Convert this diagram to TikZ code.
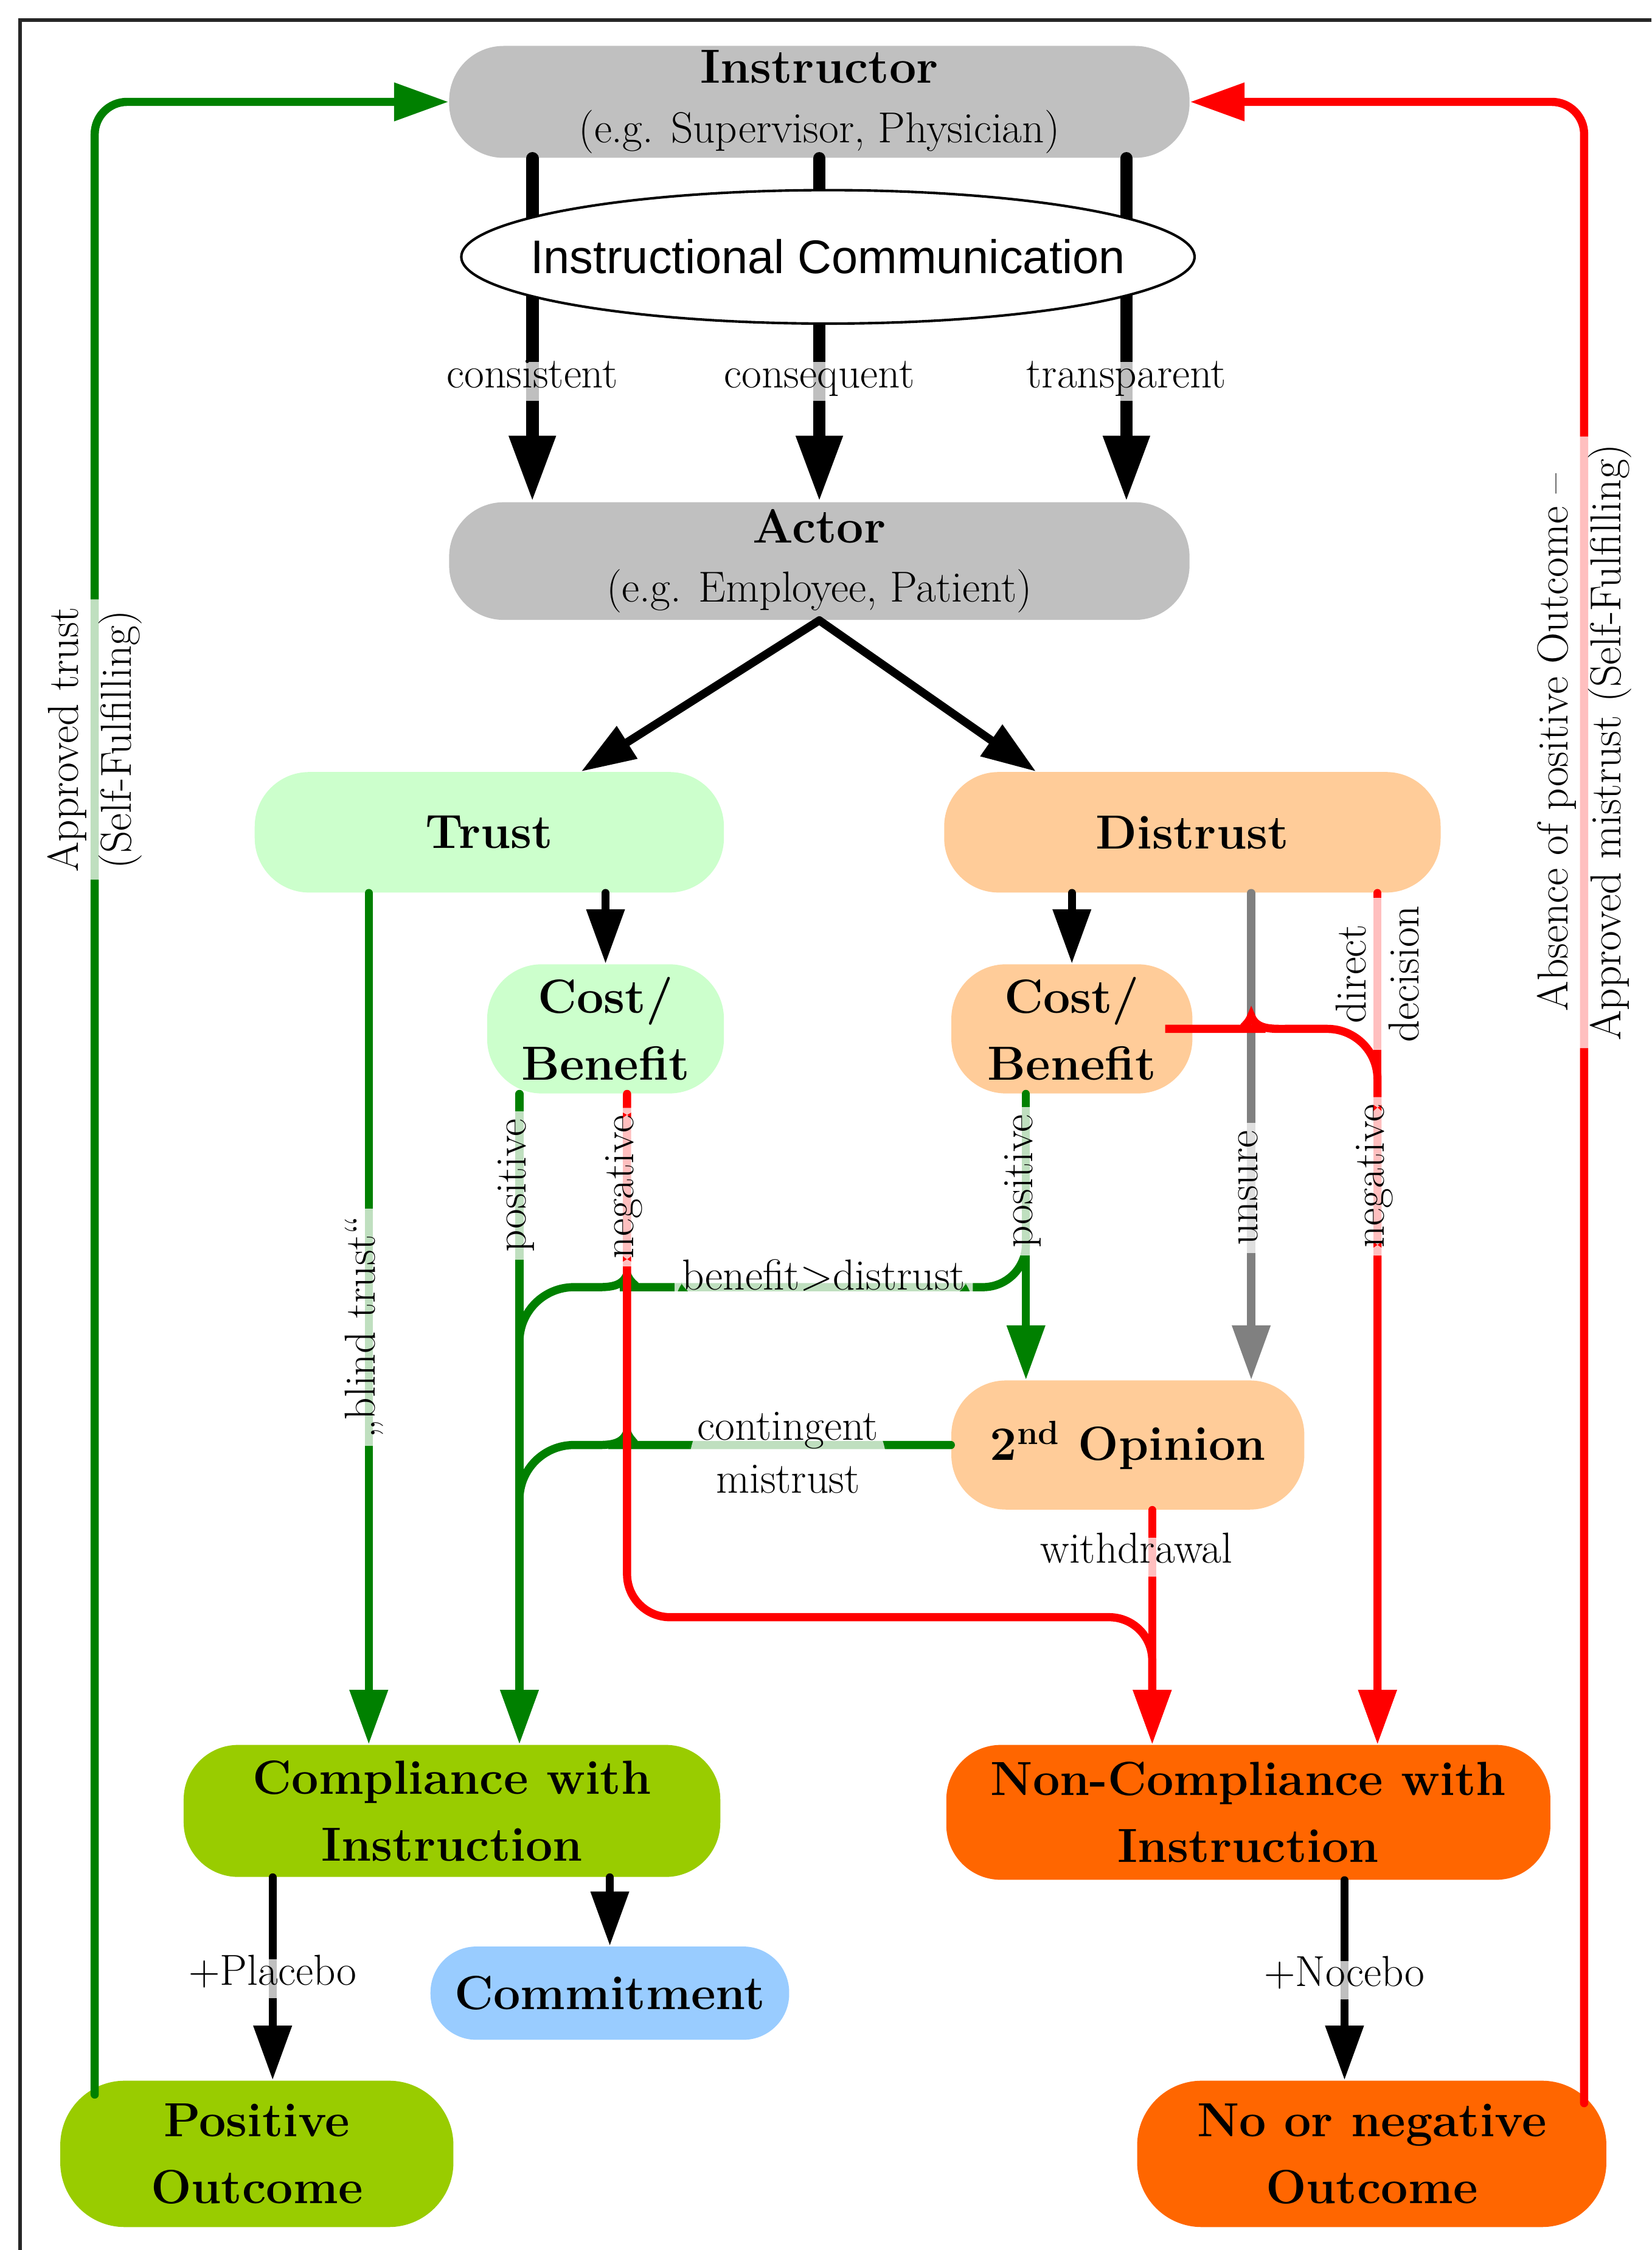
\documentclass[tikz,border=0pt]{standalone}
\usepackage{fontspec}
\newfontfamily\commfont{Liberation Sans}
\usepackage{tikz}
\usetikzlibrary{arrows.meta,shapes.geometric}

\definecolor{boxgray}{HTML}{C0C0C0}
\definecolor{trustfill}{HTML}{CCFFCC}
\definecolor{distrustfill}{HTML}{FFCC99}
\definecolor{compfill}{HTML}{99CC00}
\definecolor{noncompfill}{HTML}{FF6600}
\definecolor{commitfill}{HTML}{99CCFF}
\definecolor{edgegreen}{HTML}{008000}
\definecolor{edgered}{HTML}{FF0000}
\definecolor{edgegray}{HTML}{808080}

\newcommand\nodefont{\fontsize{19}{26.5}\selectfont\bfseries}
\newcommand\subfont{\fontsize{17.2}{21}\selectfont\mdseries}
\newcommand\lblfont{\fontsize{17.2}{21}\selectfont}

\begin{document}
\begin{tikzpicture}[x=0.2mm, y=-0.2mm,
  blob/.style={rectangle, rounded corners=7.6mm, inner sep=0pt, align=center, font=\nodefont},
  lbl/.style={fill=white, fill opacity=0.75, text opacity=1, text=black, inner sep=3pt, align=center, font=\lblfont},
  lblone/.style={fill=white, fill opacity=0.75, text opacity=1, text=black, inner sep=3pt, font=\lblfont, text height=0.72em, text depth=0.22em},
  vlbl/.style={lblone, rotate=90},
  big/.style={line width=1.75mm, line cap=round, -{Triangle[length=9.2mm, width=6.1mm]}},
  mid/.style={line width=1.14mm, line cap=round, -{Triangle[length=7.6mm, width=5.1mm]}},
  gline/.style={mid, color=edgegreen},
  rline/.style={mid, color=edgered}]

  \newcommand\XU{0.2mm}

  \useasboundingbox (0,0) rectangle (1151,1568);
  \draw[line width=0.5mm, black!85] (1151,14) -| (14,1568);

  \node[blob, fill=boxgray, minimum width=516*\XU, minimum height=78*\XU] (ins) at (571,71)
    {Instructor\\[-3pt]{\subfont (e.g. Supervisor, Physician)}};
  \node[blob, fill=boxgray, minimum width=516*\XU, minimum height=82*\XU] (act) at (571,391)
    {Actor\\[-3pt]{\subfont (e.g. Employee, Patient)}};

  \draw[big] ([xshift=-200*\XU]ins.south) -- node[lblone, pos=0.65]{consistent} ([xshift=-200*\XU]act.north);
  \draw[big] (ins.south) -- node[lblone, pos=0.65]{consequent} (act.north);
  \draw[big] ([xshift=214*\XU]ins.south) -- node[lblone, pos=0.65]{transparent} ([xshift=214*\XU]act.north);

  \node[ellipse, draw, line width=0.35mm, fill=white, minimum width=511*\XU, minimum height=93*\XU,
    inner sep=0pt, font=\commfont\fontsize{18.7}{22}\selectfont] (comm) at (577,179)
    {\makebox[0pt]{Instructional Communication}};

  \node[blob, fill=trustfill, minimum width=327*\XU, minimum height=84*\XU] (trust) at (341,580) {Trust};
  \node[blob, fill=distrustfill, minimum width=346*\XU, minimum height=84*\XU] (dis) at (831,580) {Distrust};
  \node[blob, fill=trustfill, minimum width=165*\XU, minimum height=90*\XU] (cbt) at (422,717) {Cost/\\Benefit};
  \node[blob, fill=distrustfill, minimum width=168*\XU, minimum height=90*\XU] (cbd) at (747,717) {Cost/\\Benefit};
  \node[blob, fill=distrustfill, minimum width=246*\XU, minimum height=90*\XU] (opin) at (786,1007) {2\textsuperscript{nd} Opinion};
  \node[blob, fill=compfill, minimum width=374*\XU, minimum height=92*\XU] (comp) at (315,1262) {Compliance with\\Instruction};
  \node[blob, fill=noncompfill, minimum width=421*\XU, minimum height=94*\XU] (ncomp) at (870,1263) {Non-Compliance with\\Instruction};
  \node[blob, fill=commitfill, rounded corners=6.4mm, minimum width=250*\XU, minimum height=65*\XU] (commit) at (425,1389) {Commitment};
  \node[blob, fill=compfill, rounded corners=9mm, minimum width=274*\XU, minimum height=102*\XU] (pos) at (179,1501) {Positive\\Outcome};
  \node[blob, fill=noncompfill, rounded corners=9mm, minimum width=327*\XU, minimum height=102*\XU] (neg) at (956,1501) {No or negative\\Outcome};

  % columns and rows of the connectors
  \coordinate (xl) at (66,0);
  \coordinate (xr) at (1104,0);
  \coordinate (xa) at (257,0);
  \coordinate (xb) at (362,0);
  \coordinate (xc) at (437,0);
  \coordinate (xd) at (715,0);
  \coordinate (xe) at (803,0);
  \coordinate (xf) at (872,0);
  \coordinate (xg) at (960,0);
  \coordinate (xp) at (190,0);
  \coordinate (xn) at (937,0);
  \coordinate (yb) at (0,897);
  \coordinate (yc) at (0,1127);
  \coordinate (bstart) at (715,862);

  \draw[mid] (act.south) -- ([xshift=64*\XU]trust.north);
  \draw[mid] (act.south) -- ([xshift=-109*\XU]dis.north);
  \draw[mid] (cbt.north |- trust.south) -- (cbt.north);
  \draw[mid] (cbd.north |- dis.south) -- (cbd.north);

  \draw[gline, -, rounded corners=6mm] (bstart) -- (xd |- yb)
    -- node[lblone, pos=0.557, anchor=base, yshift=-0.4mm]{benefit>distrust} ([xshift=25*\XU]xc |- yb)
    [sharp corners] to[out=180,in=-70] ++(-25,-9) to[out=-110,in=0] ++(-25,9)
    [rounded corners=7.6mm] -- (xb |- yb) -- ++(0,60);
  \draw[gline, -, rounded corners=7.6mm] (opin.west)
    -- node[lbl, pos=0.566, yshift=-1.1mm]{contingent\\mistrust} ([xshift=25*\XU]xc |- opin.west)
    [sharp corners] to[out=180,in=-70] ++(-25,-9) to[out=-110,in=0] ++(-25,9)
    [rounded corners=7.6mm] -- (xb |- opin.west) -- ++(0,60);
  \draw[gline] (cbt.south -| xb) -- node[vlbl, pos=0.141]{positive} (comp.north -| xb);
  \draw[gline] (cbd.south -| xd) -- node[vlbl, pos=0.305]{positive} (opin.north -| xd);
  \draw[gline] (trust.south -| xa) -- node[vlbl, pos=0.51]{„blind trust“} (comp.north -| xa);

  \draw[mid, edgegray] (dis.south -| xf) -- node[vlbl, pos=0.606]{unsure} (opin.north -| xf);

  \draw[rline, rounded corners=6mm] (cbt.south -| xc) -- node[vlbl, pos=0.178]{negative} (xc |- yc)
    -- (xe |- yc) -- (ncomp.north -| xe);
  \draw[rline] (opin.south -| xe) -- node[lblone, pos=0.2, xshift=-2.2mm]{withdrawal} (ncomp.north -| xe);
  \draw[rline] (dis.south -| xg) -- node[lbl, rotate=90, pos=0.095]{direct\\decision} (ncomp.north -| xg);
  \draw[rline, rounded corners=7mm] (cbd.east) -- ([xshift=-25*\XU]xf |- cbd.east)
    [sharp corners] to[out=0,in=-110] ++(25,-9) to[out=-70,in=180] ++(25,9)
    [rounded corners=7mm] -- (xg |- cbd.east) -- node[vlbl, pos=0.206]{negative} (ncomp.north -| xg);

  \draw[mid] (comp.south -| xp) -- node[lblone]{+Placebo} (pos.north -| xp);
  \draw[mid] (commit.north |- comp.south) -- (commit.north);
  \draw[mid] (ncomp.south -| xn) -- node[lblone]{+Nocebo} (neg.north -| xn);

  \draw[gline, rounded corners=4.5mm] ([yshift=-2mm]pos.north -| xl)
    -- node[lbl, rotate=90, pos=0.68]{Approved trust\\(Self-Fulfilling)} (xl |- ins.west) -- (ins.west);
  \draw[rline, rounded corners=4.5mm] ([yshift=-3.2mm]neg.north -| xr)
    -- node[lbl, rotate=90, pos=0.68]{Absence of positive Outcome –\\Approved mistrust (Self-Fulfilling)} (xr |- ins.east) -- (ins.east);

\end{tikzpicture}
\end{document}
